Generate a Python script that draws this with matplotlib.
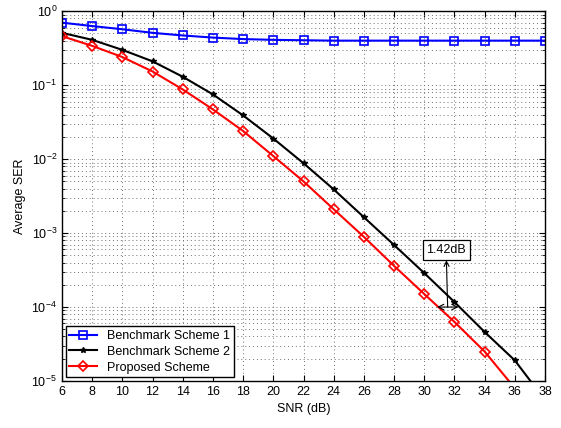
import matplotlib.pyplot as plt
from matplotlib.ticker import LogLocator, NullFormatter

plt.rcParams['font.family'] = ['Liberation Sans', 'DejaVu Sans']

snr = [6, 8, 10, 12, 14, 16, 18, 20, 22, 24, 26, 28, 30, 32, 34, 36, 38]

bench1 = [0.70, 0.63, 0.57, 0.51, 0.47, 0.44, 0.42, 0.41, 0.405, 0.40, 0.40,
          0.40, 0.40, 0.40, 0.40, 0.40, 0.40]
bench2 = [0.51, 0.41, 0.30, 0.21, 0.13, 0.075, 0.039, 0.019, 8.8e-3, 3.9e-3,
          1.64e-3, 6.9e-4, 2.88e-4, 1.17e-4, 4.6e-5, 1.9e-5, 5.5e-6]
proposed = [0.46, 0.34, 0.24, 0.153, 0.0875, 0.047, 0.024, 0.011, 5.0e-3,
            2.1e-3, 8.9e-4, 3.6e-4, 1.5e-4, 6.3e-5, 2.5e-5, 8.0e-6, 2.6e-6]

fig = plt.figure(figsize=(5.61, 4.28), dpi=100)
ax = fig.add_axes([0.1105, 0.1098, 0.861, 0.864])

ax.semilogy(snr, bench1, color='blue', marker='s', markersize=6,
            markerfacecolor='none', markeredgewidth=1.2, linewidth=1.5,
            label='Benchmark Scheme 1')
ax.semilogy(snr, bench2, color='black', marker='*', markersize=4,
            linewidth=1.5, label='Benchmark Scheme 2')
ax.semilogy(snr, proposed, color='red', marker='D', markersize=5,
            markerfacecolor='none', markeredgewidth=1.2, linewidth=1.5,
            label='Proposed Scheme')

ax.set_xlim(6, 38)
ax.set_ylim(1e-5, 1)
ax.set_xticks(range(6, 39, 2))
ax.yaxis.set_major_locator(LogLocator(base=10, numticks=10))
ax.yaxis.set_minor_locator(LogLocator(base=10, subs=range(2, 10), numticks=10))
ax.yaxis.set_minor_formatter(NullFormatter())

grid_style = dict(linestyle=(0, (1, 3)), color='#707070', linewidth=0.7)
ax.grid(True, which='major', **grid_style)
ax.grid(True, which='minor', axis='y', **grid_style)

ax.tick_params(which='both', direction='in', top=True, right=True, labelsize=9)
ax.tick_params(which='major', length=4)
ax.tick_params(which='minor', length=2)
for s in ax.spines.values():
    s.set_linewidth(1.0)

ax.set_xlabel('SNR (dB)', fontsize=9)
ax.set_ylabel('Average SER', fontsize=9)

# annotation of the gap
ax.annotate('', xy=(30.85, 1e-4), xytext=(32.27, 1e-4),
            arrowprops=dict(arrowstyle='<->', color='black', lw=0.8,
                            shrinkA=0, shrinkB=0))
ax.annotate('1.42dB', xy=(31.55, 1e-4), xytext=(31.45, 5.9e-4),
            ha='center', va='center', fontsize=9,
            bbox=dict(boxstyle='square,pad=0.3', fc='white', ec='black', lw=0.9),
            arrowprops=dict(arrowstyle='<-', color='black', lw=0.8,
                            shrinkA=0, shrinkB=0))

leg = ax.legend(loc='lower left', fontsize=9, fancybox=False, framealpha=1,
                edgecolor='black', borderaxespad=0.3, handlelength=2.2,
                labelspacing=0.3, borderpad=0.3)
leg.get_frame().set_linewidth(1.0)

fig.savefig('out.png', dpi=100)
